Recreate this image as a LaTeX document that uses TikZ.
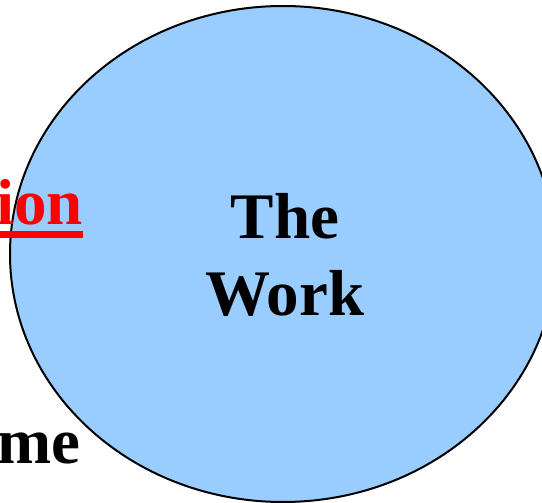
\documentclass[tikz,border=0pt]{standalone}
\usepackage{fontspec}
\setmainfont{Liberation Serif}
\usetikzlibrary{shapes.geometric}
\definecolor{disc}{HTML}{99CCFF}
\definecolor{ink}{HTML}{000000}
\definecolor{alert}{HTML}{FF0000}
\tikzset{
  every node/.style={text=ink,inner sep=0pt},
  bigtext/.style={font=\fontsize{65}{77}\selectfont\bfseries,align=center},
  workdisc/.style={ellipse,draw=ink,line width=2pt,fill=disc,minimum width=546pt,minimum height=496pt},
  redword/.style={bigtext,text=alert},
  ulline/.style={draw=alert,line width=7pt},
}
\begin{document}
\begin{tikzpicture}[x=1pt,y=-1pt]
\useasboundingbox (0,0) rectangle (542,503);
\clip (0,0) rectangle (542,503);

\node[workdisc] (work) at (283,254) {};
\node[bigtext] (title) at (285,255) {The\\Work};

\node[redword,anchor=base east] (ion) at (83,225) {ion};
\draw[ulline] (0,235) -- (ion.east |- 0,235);

\node[bigtext,anchor=base east] (me) at (81,463) {me};

\end{tikzpicture}
\end{document}
